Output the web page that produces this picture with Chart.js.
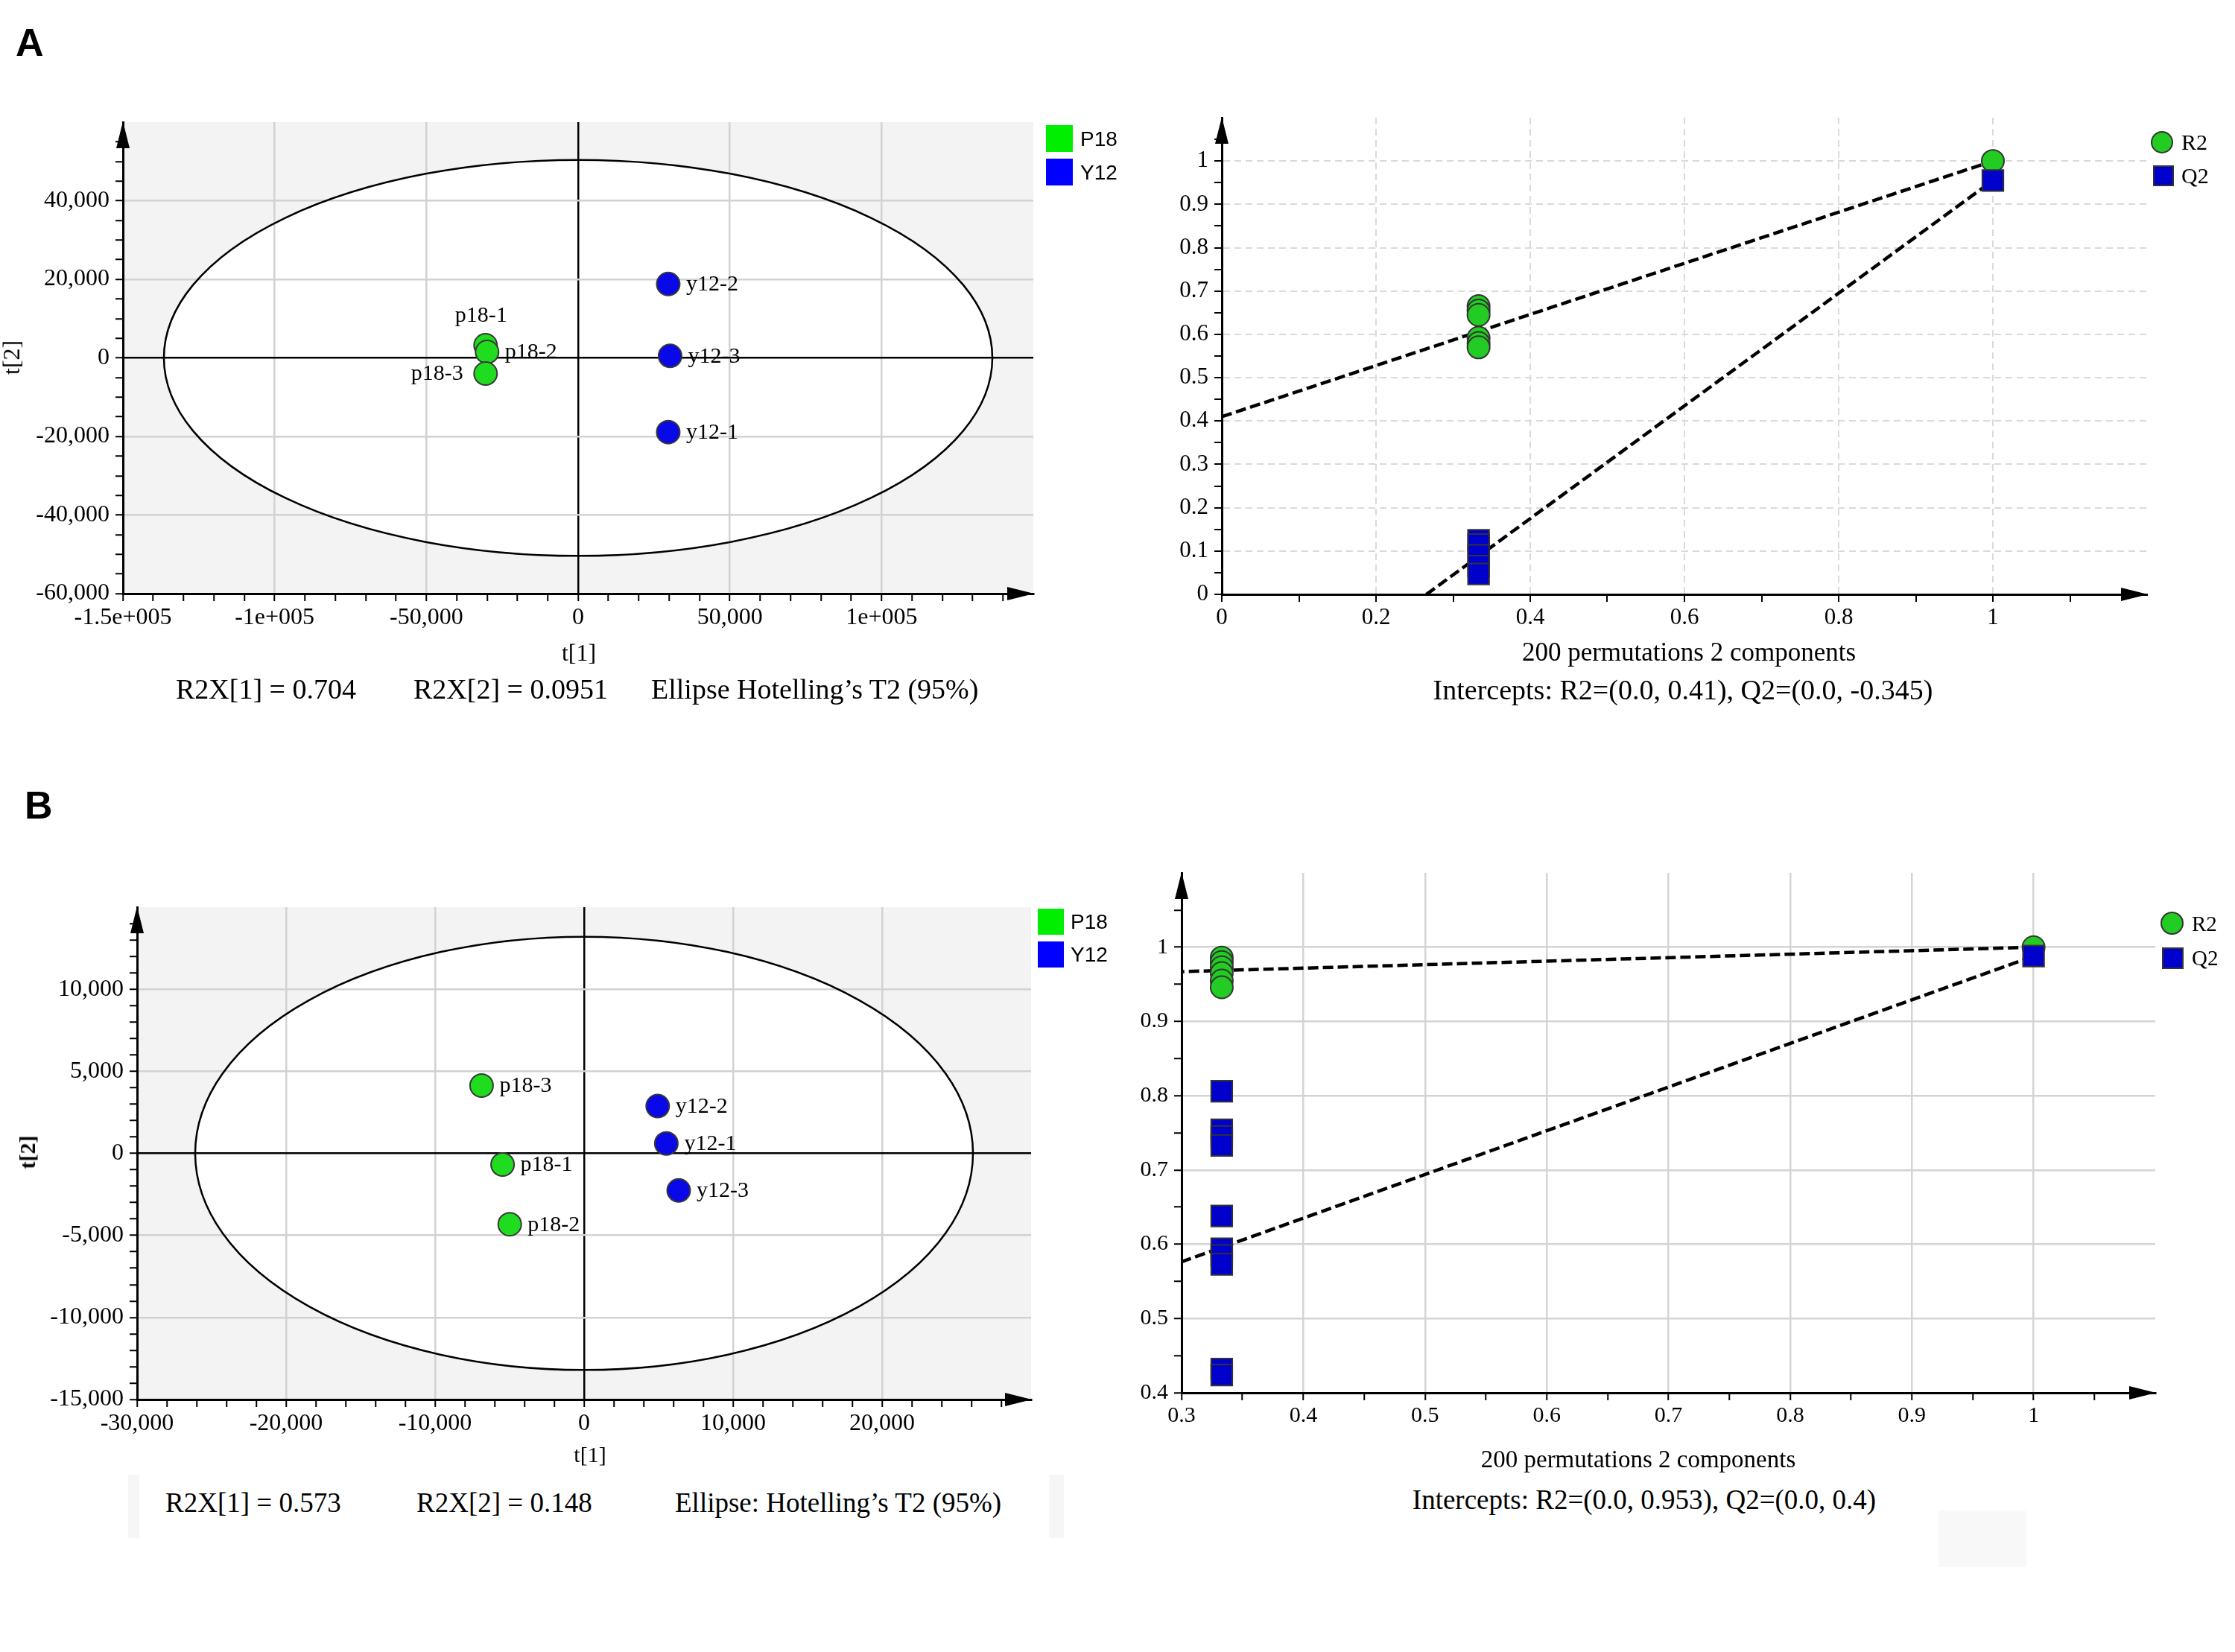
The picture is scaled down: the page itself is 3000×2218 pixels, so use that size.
<!DOCTYPE html>
<html>
<head>
<meta charset="utf-8">
<script src="https://cdn.jsdelivr.net/npm/chart.js@4.4.1/dist/chart.umd.min.js"></script>
<style>
  html, body { margin:0; padding:0; background:#fff; }
  body { position:relative; width:3000px; height:2218px; overflow:hidden; font-family:'Liberation Serif','Times New Roman',serif; color:#000; }
  .pane { position:absolute; }
  .pane canvas { display:block; }
  .t { position:absolute; white-space:nowrap; line-height:1; z-index:5; }
  .cc { transform:translate(-50%,-50%); }
  .lc { transform:translate(0,-50%); }
  .rot { transform:translate(-50%,-50%) rotate(-90deg); }
  .sans { font-family:'Liberation Sans',Arial,sans-serif; }
  .sw { position:absolute; box-sizing:border-box; z-index:5; }
</style>
</head>
<body>
<!-- faint artefact boxes present in the original figure -->
<div class="sw" style="left:172px;top:1980px;width:15px;height:85px;background:#f6f6f6"></div>
<div class="sw" style="left:1408px;top:1980px;width:20px;height:85px;background:#f6f6f6"></div>
<div class="sw" style="left:2602px;top:2028px;width:118px;height:76px;background:#f8f8f8"></div>

<div class="t sans" style="left:21px;top:31px;font-size:52px;font-weight:bold;">A</div>
<div class="t sans" style="left:33px;top:1055px;font-size:52px;font-weight:bold;">B</div>

<div class="pane" style="left:0;top:100px;width:1500px;height:850px"><canvas id="cAL" width="1500" height="850"></canvas></div>
<div class="pane" style="left:1500px;top:100px;width:1500px;height:850px"><canvas id="cAR" width="1500" height="850"></canvas></div>
<div class="pane" style="left:0;top:1120px;width:1500px;height:850px"><canvas id="cBL" width="1500" height="850"></canvas></div>
<div class="pane" style="left:1500px;top:1120px;width:1500px;height:850px"><canvas id="cBR" width="1500" height="850"></canvas></div>

<!-- Panel A left texts -->
<div class="t rot" style="left:15px;top:480px;font-size:32px">t[2]</div>
<div class="t cc" style="left:777px;top:876px;font-size:32px">t[1]</div>
<div class="t lc" style="left:236px;top:925px;font-size:38px">R2X[1] = 0.704</div>
<div class="t lc" style="left:555px;top:925px;font-size:38px">R2X[2] = 0.0951</div>
<div class="t lc" style="left:874px;top:925px;font-size:38px">Ellipse Hotelling’s T2 (95%)</div>
<div class="sw" style="left:1404px;top:168px;width:36px;height:36px;background:#00ee00"></div>
<div class="sw" style="left:1404px;top:213px;width:36px;height:36px;background:#0000ff"></div>
<div class="t lc sans" style="left:1450px;top:187px;font-size:28px">P18</div>
<div class="t lc sans" style="left:1450px;top:232px;font-size:28px">Y12</div>

<!-- Panel A right texts -->
<div class="t cc" style="left:2267px;top:875px;font-size:35px">200 permutations 2 components</div>
<div class="t cc" style="left:2259px;top:926px;font-size:38px">Intercepts: R2=(0.0, 0.41), Q2=(0.0, -0.345)</div>
<div class="sw" style="left:2887px;top:176px;width:30px;height:30px;border-radius:50%;background:#22cc22;border:2px solid #333"></div>
<div class="sw" style="left:2890px;top:222px;width:28px;height:28px;background:#0000cc;border:2px solid #333"></div>
<div class="t lc" style="left:2928px;top:191px;font-size:30px">R2</div>
<div class="t lc" style="left:2928px;top:236px;font-size:30px">Q2</div>

<!-- Panel B left texts -->
<div class="t rot" style="left:37px;top:1547px;font-size:30px;font-weight:bold">t[2]</div>
<div class="t cc" style="left:792px;top:1953px;font-size:30px">t[1]</div>
<div class="t lc" style="left:222px;top:2017px;font-size:37px">R2X[1] = 0.573</div>
<div class="t lc" style="left:559px;top:2017px;font-size:37px">R2X[2] = 0.148</div>
<div class="t lc" style="left:906px;top:2017px;font-size:37px">Ellipse: Hotelling’s T2 (95%)</div>
<div class="sw" style="left:1393px;top:1220px;width:35px;height:35px;background:#00ee00"></div>
<div class="sw" style="left:1393px;top:1264px;width:35px;height:35px;background:#0000ff"></div>
<div class="t lc sans" style="left:1437px;top:1238px;font-size:28px">P18</div>
<div class="t lc sans" style="left:1437px;top:1282px;font-size:28px">Y12</div>

<!-- Panel B right texts -->
<div class="t cc" style="left:2199px;top:1959px;font-size:33px">200 permutations 2 components</div>
<div class="t cc" style="left:2207px;top:2013px;font-size:37px">Intercepts: R2=(0.0, 0.953), Q2=(0.0, 0.4)</div>
<div class="sw" style="left:2900px;top:1224px;width:31px;height:31px;border-radius:50%;background:#22cc22;border:2px solid #333"></div>
<div class="sw" style="left:2902px;top:1272px;width:29px;height:29px;background:#0000cc;border:2px solid #333"></div>
<div class="t lc" style="left:2942px;top:1240px;font-size:29px">R2</div>
<div class="t lc" style="left:2942px;top:1286px;font-size:29px">Q2</div>

<script>
// ===================== DATA =====================
// Panel A – score plot
const scoreA_P18_names = ['p18-1', 'p18-2', 'p18-3'];
const scoreA_P18_t1 = [-30500, -30000, -30500];
const scoreA_P18_t2 = [3200, 1500, -4000];
const scoreA_Y12_names = ['y12-1', 'y12-2', 'y12-3'];
const scoreA_Y12_t1 = [29700, 29700, 30300];
const scoreA_Y12_t2 = [-18900, 18800, 500];
const scoreA_ellipse = [136500, 50400];
const scoreA_xTicks = [-150000, -100000, -50000, 0, 50000, 100000];
const scoreA_xTickLabels = ['-1.5e+005', '-1e+005', '-50,000', '0', '50,000', '1e+005'];
const scoreA_yTicks = [-60000, -40000, -20000, 0, 20000, 40000];
const scoreA_yTickLabels = ['-60,000', '-40,000', '-20,000', '0', '20,000', '40,000'];

// Panel A – permutation test
const permA_R2_x = [1, 0.333, 0.333, 0.333, 0.333, 0.333, 0.333];
const permA_R2 = [1.0, 0.665, 0.655, 0.645, 0.592, 0.58, 0.57];
const permA_Q2_x = [1, 0.333, 0.333, 0.333, 0.333, 0.333];
const permA_Q2 = [0.955, 0.125, 0.115, 0.09, 0.065, 0.047];
const permA_fit_x = [0, 1];
const permA_R2_fit = [0.41, 1.0];
const permA_Q2_fit = [-0.345, 0.955];
const permA_xTicks = [0, 0.2, 0.4, 0.6, 0.8, 1];
const permA_xTickLabels = ['0', '0.2', '0.4', '0.6', '0.8', '1'];
const permA_yTicks = [0, 0.1, 0.2, 0.3, 0.4, 0.5, 0.6, 0.7, 0.8, 0.9, 1];
const permA_yTickLabels = ['0', '0.1', '0.2', '0.3', '0.4', '0.5', '0.6', '0.7', '0.8', '0.9', '1'];

// Panel B – score plot
const scoreB_P18_names = ['p18-1', 'p18-2', 'p18-3'];
const scoreB_P18_t1 = [-5470, -4990, -6880];
const scoreB_P18_t2 = [-680, -4320, 4130];
const scoreB_Y12_names = ['y12-1', 'y12-2', 'y12-3'];
const scoreB_Y12_t1 = [5520, 4940, 6350];
const scoreB_Y12_t2 = [600, 2880, -2260];
const scoreB_ellipse = [26100, 13200];
const scoreB_xTicks = [-30000, -20000, -10000, 0, 10000, 20000];
const scoreB_xTickLabels = ['-30,000', '-20,000', '-10,000', '0', '10,000', '20,000'];
const scoreB_yTicks = [-15000, -10000, -5000, 0, 5000, 10000];
const scoreB_yTickLabels = ['-15,000', '-10,000', '-5,000', '0', '5,000', '10,000'];

// Panel B – permutation test
const permB_R2_x = [1, 0.333, 0.333, 0.333, 0.333, 0.333, 0.333];
const permB_R2 = [1.0, 0.986, 0.98, 0.973, 0.965, 0.955, 0.946];
const permB_Q2_x = [1, 0.333, 0.333, 0.333, 0.333, 0.333, 0.333, 0.333, 0.333, 0.333, 0.333];
const permB_Q2 = [0.988, 0.806, 0.754, 0.745, 0.733, 0.638, 0.594, 0.585, 0.573, 0.432, 0.424];
const permB_fit_x = [0, 1];
const permB_R2_fit = [0.953, 1.0];
const permB_Q2_fit = [0.4, 0.988];
const permB_xTicks = [0.3, 0.4, 0.5, 0.6, 0.7, 0.8, 0.9, 1];
const permB_xTickLabels = ['0.3', '0.4', '0.5', '0.6', '0.7', '0.8', '0.9', '1'];
const permB_yTicks = [0.4, 0.5, 0.6, 0.7, 0.8, 0.9, 1];
const permB_yTickLabels = ['0.4', '0.5', '0.6', '0.7', '0.8', '0.9', '1'];

// ===================== HELPERS =====================
const SERIF = "'Liberation Serif','Times New Roman',serif";
const CLEAR = 'rgba(0,0,0,0)';
const zipXY = (xs, ys) => xs.map((x, i) => ({ x: x, y: ys[i] }));
const near = (v, t) => Math.abs(v - t) < 1e-7 * Math.max(1, Math.abs(t));

function axis(a, isX, size) {
  const idx = v => a.ticks.findIndex(t => near(v, t));
  return {
    type: 'linear', position: isX ? 'bottom' : 'left', min: a.min, max: a.max, offset: false,
    afterFit(s) { if (isX) s.height = size; else s.width = size; },
    ticks: {
      stepSize: a.step, autoSkip: false, maxTicksLimit: 1000, maxRotation: 0, minRotation: 0,
      padding: a.pad, color: '#000', font: { family: SERIF, size: a.font },
      callback: (v) => { const i = idx(v); return i >= 0 ? a.labels[i] : ''; }
    },
    grid: {
      drawOnChartArea: true, drawTicks: true, tickLength: 10, tickWidth: 2,
      tickColor: (c) => (c.tick && near(c.tick.value, a.max)) ? CLEAR : '#000',
      color: (c) => {
        if (!c.tick) return CLEAR;
        const v = c.tick.value;
        if (near(v, a.min) || near(v, a.max)) return CLEAR;
        if (a.zero && Math.abs(v) < 1e-9) return '#000';
        return idx(v) >= 0 ? a.gridColor : CLEAR;
      },
      lineWidth: (c) => (a.zero && c.tick && Math.abs(c.tick.value) < 1e-9) ? 2.5 : a.gridWidth
    },
    border: { display: true, color: '#000', width: 3, dash: (c) => (a.dash && c.tick) ? a.dash : [] }
  };
}

const axisArrows = {
  id: 'axisArrows',
  afterDraw(chart) {
    const { ctx, chartArea: a } = chart;
    ctx.save();
    ctx.fillStyle = '#000';
    ctx.beginPath(); ctx.moveTo(a.left, a.top - 1); ctx.lineTo(a.left - 9, a.top + 35); ctx.lineTo(a.left + 9, a.top + 35); ctx.closePath(); ctx.fill();
    ctx.beginPath(); ctx.moveTo(a.right + 1, a.bottom); ctx.lineTo(a.right - 35, a.bottom - 9); ctx.lineTo(a.right - 35, a.bottom + 9); ctx.closePath(); ctx.fill();
    ctx.restore();
  }
};

function ellipsePlugin(radii) {
  const geom = (chart) => {
    const { x, y } = chart.scales;
    const cx = x.getPixelForValue(0), cy = y.getPixelForValue(0);
    return { cx, cy, rx: Math.abs(x.getPixelForValue(radii[0]) - cx), ry: Math.abs(y.getPixelForValue(radii[1]) - cy) };
  };
  return {
    id: 'hotellingEllipse',
    beforeDraw(chart) {
      const { ctx, chartArea: a } = chart; const g = geom(chart);
      ctx.save();
      ctx.fillStyle = '#f3f3f3'; ctx.fillRect(a.left, a.top, a.width, a.height);
      ctx.beginPath(); ctx.ellipse(g.cx, g.cy, g.rx, g.ry, 0, 0, Math.PI * 2);
      ctx.fillStyle = '#ffffff'; ctx.fill();
      ctx.restore();
    },
    beforeDatasetsDraw(chart) {
      const { ctx } = chart; const g = geom(chart);
      ctx.save();
      ctx.beginPath(); ctx.ellipse(g.cx, g.cy, g.rx, g.ry, 0, 0, Math.PI * 2);
      ctx.strokeStyle = '#000'; ctx.lineWidth = 2.5; ctx.stroke();
      ctx.restore();
    }
  };
}

function nameLabels(fontSize) {
  return {
    id: 'nameLabels',
    afterDatasetsDraw(chart) {
      const ctx = chart.ctx;
      ctx.save();
      ctx.font = fontSize + 'px ' + SERIF; ctx.fillStyle = '#000'; ctx.textBaseline = 'middle';
      chart.data.datasets.forEach((ds, di) => {
        if (!ds.pointNames) return;
        chart.getDatasetMeta(di).data.forEach((pt, i) => {
          const place = ds.namePlace ? ds.namePlace[i] : 'right';
          let x = pt.x, y = pt.y + 1;
          if (place === 'right') { ctx.textAlign = 'left'; x += 24; }
          else if (place === 'left') { ctx.textAlign = 'right'; x -= 30; }
          else { ctx.textAlign = 'center'; x -= 6; y -= 40; }
          ctx.fillText(ds.pointNames[i], x, y);
        });
      });
      ctx.restore();
    }
  };
}

function build(id, box, area, yW, xH, xA, yA, datasets, plugins) {
  const padding = {
    left: area.l - box.x - yW, top: area.t - box.y,
    right: box.x + box.w - area.r, bottom: box.y + box.h - area.b - xH
  };
  return new Chart(document.getElementById(id), {
    type: 'scatter',
    data: { datasets },
    options: {
      responsive: false, animation: false, events: [], devicePixelRatio: 1,
      layout: { padding },
      plugins: { legend: { display: false }, tooltip: { enabled: false }, title: { display: false } },
      scales: { x: axis(xA, true, xH), y: axis(yA, false, yW) }
    },
    plugins: plugins.concat([axisArrows])
  });
}

const greenPt = '#1fdc1f', bluePt = '#0808e8';
const scoreSet = (label, xs, ys, names, place, col) => ({
  label, data: zipXY(xs, ys), pointNames: names, namePlace: place,
  pointRadius: 15.5, pointBackgroundColor: col, pointBorderColor: '#383838', pointBorderWidth: 2, showLine: false
});
const fitLine = (xs, ys) => ({
  type: 'line', data: zipXY(xs, ys), borderColor: '#000', borderWidth: 4.5, borderDash: [14, 6],
  pointRadius: 0, fill: false, tension: 0, order: 3
});
const r2Set = (xs, ys) => ({
  label: 'R2', data: zipXY(xs, ys), pointStyle: 'circle', pointRadius: 15,
  pointBackgroundColor: '#22cc22', pointBorderColor: '#333', pointBorderWidth: 2, showLine: false, order: 2
});
const q2Set = (xs, ys) => ({
  label: 'Q2', data: zipXY(xs, ys), pointStyle: 'rect', pointRadius: 20,
  pointBackgroundColor: '#0000cc', pointBorderColor: '#333', pointBorderWidth: 2, showLine: false, order: 1
});

// ===================== PANEL A LEFT =====================
build('cAL', { x: 0, y: 100, w: 1500, h: 850 }, { l: 165, t: 164, r: 1387, b: 797 }, 150, 60,
  { min: -150000, max: 150000, step: 10000, ticks: scoreA_xTicks, labels: scoreA_xTickLabels, font: 32, pad: 3, zero: true, gridColor: '#d2d2d2', gridWidth: 2.5 },
  { min: -60000, max: 60000, step: 5000, ticks: scoreA_yTicks, labels: scoreA_yTickLabels, font: 32, pad: 8, zero: true, gridColor: '#d2d2d2', gridWidth: 2.5 },
  [
    scoreSet('P18', scoreA_P18_t1, scoreA_P18_t2, scoreA_P18_names, ['above', 'right', 'left'], greenPt),
    scoreSet('Y12', scoreA_Y12_t1, scoreA_Y12_t2, scoreA_Y12_names, ['right', 'right', 'right'], bluePt)
  ],
  [ellipsePlugin(scoreA_ellipse), nameLabels(30)]
);

// ===================== PANEL A RIGHT =====================
build('cAR', { x: 1500, y: 100, w: 1500, h: 850 }, { l: 1640, t: 158, r: 2882, b: 798 }, 110, 60,
  { min: 0, max: 1.2, step: 0.1, ticks: permA_xTicks, labels: permA_xTickLabels, font: 31, pad: 3, zero: false, gridColor: '#dadada', gridWidth: 2, dash: [9, 6] },
  { min: 0, max: 1.1, step: 0.05, ticks: permA_yTicks, labels: permA_yTickLabels, font: 31, pad: 8, zero: false, gridColor: '#dadada', gridWidth: 2, dash: [9, 6] },
  [
    fitLine(permA_fit_x, permA_R2_fit),
    fitLine(permA_fit_x, permA_Q2_fit),
    r2Set(permA_R2_x, permA_R2),
    q2Set(permA_Q2_x, permA_Q2)
  ],
  []
);

// ===================== PANEL B LEFT =====================
build('cBL', { x: 0, y: 1120, w: 1500, h: 850 }, { l: 184, t: 1218, r: 1384, b: 1879 }, 160, 60,
  { min: -30000, max: 30000, step: 2000, ticks: scoreB_xTicks, labels: scoreB_xTickLabels, font: 32, pad: 3, zero: true, gridColor: '#d2d2d2', gridWidth: 2.5 },
  { min: -15000, max: 15000, step: 1000, ticks: scoreB_yTicks, labels: scoreB_yTickLabels, font: 32, pad: 8, zero: true, gridColor: '#d2d2d2', gridWidth: 2.5 },
  [
    scoreSet('P18', scoreB_P18_t1, scoreB_P18_t2, scoreB_P18_names, ['right', 'right', 'right'], greenPt),
    scoreSet('Y12', scoreB_Y12_t1, scoreB_Y12_t2, scoreB_Y12_names, ['right', 'right', 'right'], bluePt)
  ],
  [ellipsePlugin(scoreB_ellipse), nameLabels(30)]
);

// ===================== PANEL B RIGHT =====================
build('cBR', { x: 1500, y: 1120, w: 1500, h: 850 }, { l: 1586, t: 1172, r: 2893, b: 1870 }, 110, 60,
  { min: 0.3, max: 1.1, step: 0.05, ticks: permB_xTicks, labels: permB_xTickLabels, font: 30, pad: 3, zero: false, gridColor: '#d4d4d4', gridWidth: 2.5 },
  { min: 0.4, max: 1.1, step: 0.05, ticks: permB_yTicks, labels: permB_yTickLabels, font: 30, pad: 8, zero: false, gridColor: '#d4d4d4', gridWidth: 2.5 },
  [
    fitLine(permB_fit_x, permB_R2_fit),
    fitLine(permB_fit_x, permB_Q2_fit),
    r2Set(permB_R2_x, permB_R2),
    q2Set(permB_Q2_x, permB_Q2)
  ],
  []
);
</script>
</body>
</html>
